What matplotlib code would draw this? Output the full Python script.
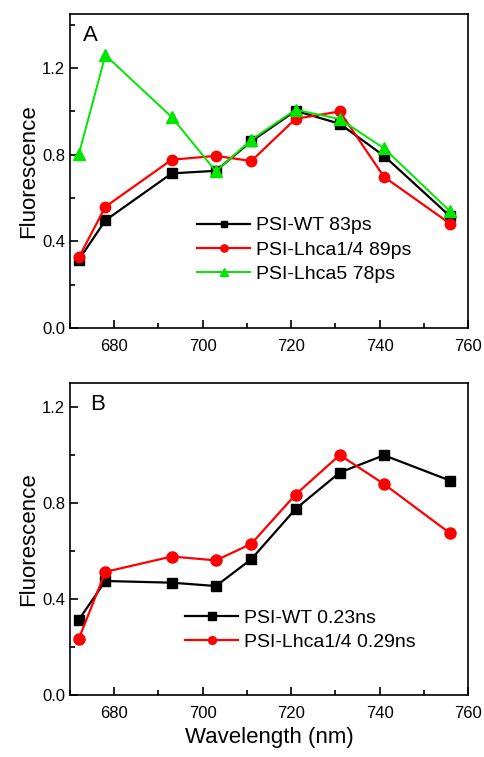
import matplotlib

matplotlib.use("Agg")
import matplotlib.pyplot as plt
from matplotlib.ticker import MultipleLocator

plt.rcParams["font.family"] = ["Liberation Sans", "DejaVu Sans"]

wavelength = [672, 678, 693, 703, 711, 721, 731, 741, 756]

# panel A: fast component
a_wt = [0.315, 0.497, 0.714, 0.726, 0.862, 1.003, 0.943, 0.795, 0.515]
a_lhca14 = [0.326, 0.560, 0.777, 0.795, 0.771, 0.966, 1.000, 0.698, 0.481]
a_lhca5 = [0.803, 1.260, 0.974, 0.723, 0.869, 1.008, 0.965, 0.830, 0.538]

# panel B: slow component
b_wt = [0.314, 0.475, 0.468, 0.454, 0.566, 0.775, 0.927, 0.999, 0.893]
b_lhca14 = [0.235, 0.513, 0.577, 0.561, 0.630, 0.835, 1.000, 0.879, 0.673]

labels_a = ["PSI-WT 83ps", "PSI-Lhca1/4 89ps", "PSI-Lhca5 78ps"]
labels_b = ["PSI-WT 0.23ns", "PSI-Lhca1/4 0.29ns"]

GREEN = "#00e600"
RED = "#ff0000"


def style_axes(ax, ymax):
    ax.set_xlim(670, 760)
    ax.set_ylim(0, ymax)
    ax.xaxis.set_major_locator(MultipleLocator(20))
    ax.xaxis.set_minor_locator(MultipleLocator(10))
    ax.yaxis.set_major_locator(MultipleLocator(0.4))
    ax.yaxis.set_minor_locator(MultipleLocator(0.2))
    ax.tick_params(which="both", direction="in", labelsize=12, width=1.2,
                   top=False, right=False)
    ax.tick_params(which="major", length=6)
    ax.tick_params(which="minor", length=3.5)
    ax.tick_params(axis="x", pad=8)
    for s in ax.spines.values():
        s.set_linewidth(1.2)
    ax.set_ylabel("Fluorescence", fontsize=16, labelpad=2)


fig = plt.figure(figsize=(4.85, 7.57), dpi=100)
ax1 = fig.add_axes([70 / 485, 1 - 328 / 757, 398 / 485, 314 / 757])
ax2 = fig.add_axes([70 / 485, 1 - 695 / 757, 398 / 485, 312 / 757])

ax1.plot(wavelength, a_wt, "-s", color="black", lw=1.6, ms=6.5, label=labels_a[0])
ax1.plot(wavelength, a_lhca14, "-o", color=RED, lw=1.6, ms=7.5, label=labels_a[1])
ax1.plot(wavelength, a_lhca5, "-^", color=GREEN, lw=1.4, ms=8, label=labels_a[2])
style_axes(ax1, 1.45)
ax1.text(0.033, 0.965, "A", transform=ax1.transAxes, fontsize=16, va="top", ha="left")
ax1.legend(loc="upper left", bbox_to_anchor=(0.32, 0.354), frameon=False, fontsize=14,
           handlelength=2.7, markerscale=0.7, labelspacing=0.35, handletextpad=0.3,
           borderpad=0, borderaxespad=0)

ax2.plot(wavelength, b_wt, "-s", color="black", lw=1.6, ms=7.5, label=labels_b[0])
ax2.plot(wavelength, b_lhca14, "-o", color=RED, lw=1.6, ms=8, label=labels_b[1])
style_axes(ax2, 1.3)
ax2.text(0.05, 0.965, "B", transform=ax2.transAxes, fontsize=16, va="top", ha="left")
ax2.set_xlabel("Wavelength (nm)", fontsize=16, labelpad=4)
ax2.legend(loc="upper left", bbox_to_anchor=(0.29, 0.274), frameon=False, fontsize=14,
           handlelength=2.7, markerscale=0.7, labelspacing=0.3, handletextpad=0.3,
           borderpad=0, borderaxespad=0)

fig.savefig("out.png", dpi=100)
